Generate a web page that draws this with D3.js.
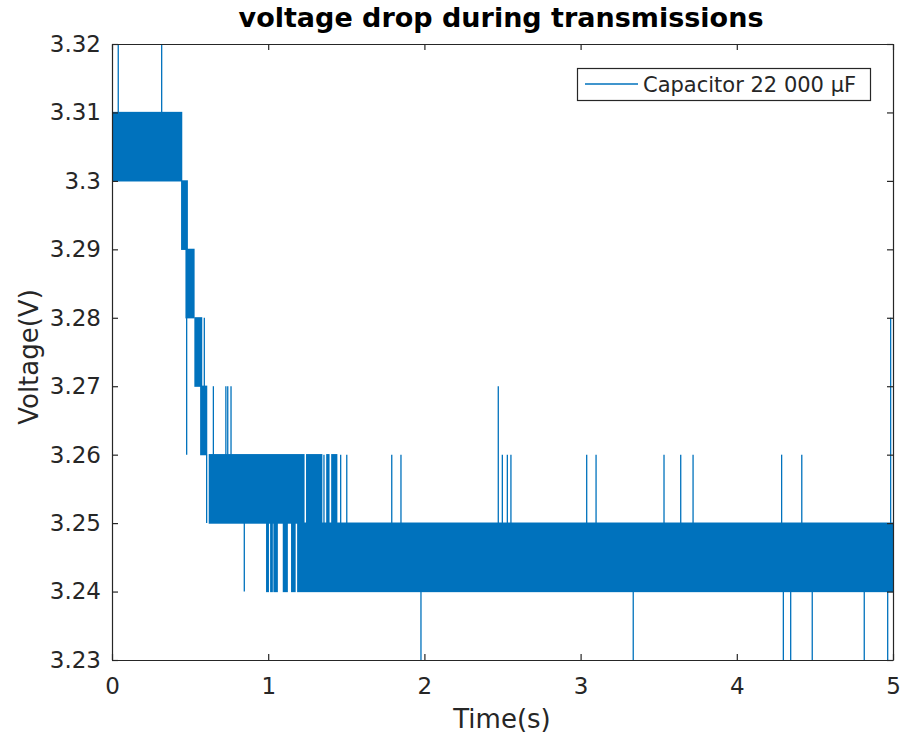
<!DOCTYPE html>
<html>
<head>
<meta charset="utf-8">
<script src="https://cdn.jsdelivr.net/npm/d3@7/dist/d3.min.js"></script>
<style>
  html, body { margin: 0; padding: 0; background: #ffffff; }
  svg { display: block; }
  text { font-family: "DejaVu Sans", sans-serif; }
</style>
</head>
<body>
<svg id="chart" width="904" height="740"></svg>
<script>
// Sampled supply voltage of a 22 000 µF capacitor while transmitting.
// The ADC reading toggles rapidly between adjacent 10 mV levels; those
// stretches are stored as toggle bands, and isolated one-sample glitches
// are stored as spikes.

const seriesName = "Capacitor 22 000 µF";

// Toggle bands: signal switches continuously between lo and hi over [t0, t1] (s, V)
const bandStart = [0.000, 0.446, 0.474, 0.531, 0.568, 0.623, 1.246, 1.375, 1.407, 1.189, 0.990, 1.016, 1.037, 1.097, 1.150];
const bandEnd   = [0.446, 0.482, 0.525, 0.574, 0.606, 1.229, 1.343, 1.389, 1.439, 5.000, 1.001, 1.026, 1.058, 1.122, 1.172];
const bandLow   = [3.30,  3.29,  3.28,  3.27,  3.26,  3.25,  3.25,  3.25,  3.25,  3.24,  3.24,  3.24,  3.24,  3.24,  3.24];
const bandHigh  = [3.31,  3.30,  3.29,  3.28,  3.27,  3.26,  3.26,  3.26,  3.26,  3.25,  3.25,  3.25,  3.25,  3.25,  3.25];

// Single-sample glitches: time (s), and the two voltages the trace jumps between
const spikeTime = [0.040, 0.318, 0.478, 0.591, 0.649, 0.729, 0.741, 0.762, 0.606,
                   1.357, 1.464, 1.503, 1.791, 1.850, 2.473, 2.499, 2.531, 2.554,
                   3.039, 3.099, 3.534, 3.641, 3.720, 4.287, 4.416, 0.847,
                   1.978, 3.337, 4.298, 4.345, 4.483, 4.816, 4.966, 4.985];
const spikeFrom = [3.31, 3.31, 3.28, 3.27, 3.26, 3.26, 3.26, 3.26, 3.25,
                   3.25, 3.25, 3.25, 3.25, 3.25, 3.25, 3.25, 3.25, 3.25,
                   3.25, 3.25, 3.25, 3.25, 3.25, 3.25, 3.25, 3.24,
                   3.23, 3.23, 3.23, 3.23, 3.23, 3.23, 3.23, 3.25];
const spikeTo   = [3.325, 3.325, 3.26, 3.28, 3.27, 3.27, 3.27, 3.27, 3.26,
                   3.26, 3.26, 3.26, 3.26, 3.26, 3.27, 3.26, 3.26, 3.26,
                   3.26, 3.26, 3.26, 3.26, 3.26, 3.26, 3.26, 3.25,
                   3.24, 3.24, 3.24, 3.24, 3.24, 3.24, 3.24, 3.28];

const xTicks = [0, 1, 2, 3, 4, 5];
const xTickLabels = ["0", "1", "2", "3", "4", "5"];
const yTicks = [3.23, 3.24, 3.25, 3.26, 3.27, 3.28, 3.29, 3.30, 3.31, 3.32];
const yTickLabels = ["3.23", "3.24", "3.25", "3.26", "3.27", "3.28", "3.29", "3.3", "3.31", "3.32"];

const lineColor = "#0072BD";
const axisColor = "#262626";

const W = 904, H = 740;
const margin = { top: 44, right: 11, bottom: 80, left: 112 };
const svg = d3.select("#chart");

const x = d3.scaleLinear().domain([0, 5]).range([margin.left, W - margin.right]);
const y = d3.scaleLinear().domain([3.23, 3.32]).range([H - margin.bottom, margin.top]);

svg.append("defs").append("clipPath").attr("id", "plot-clip")
  .append("rect")
  .attr("x", x(0)).attr("y", y(3.32))
  .attr("width", x(5) - x(0)).attr("height", y(3.23) - y(3.32));

const plot = svg.append("g").attr("clip-path", "url(#plot-clip)");

const bands = bandStart.map((t0, i) => ({ t0, t1: bandEnd[i], lo: bandLow[i], hi: bandHigh[i] }));
const spikes = spikeTime.map((t, i) => ({ t, a: spikeFrom[i], b: spikeTo[i] }));

plot.selectAll("rect.band").data(bands).join("rect")
  .attr("class", "band")
  .attr("x", d => x(d.t0) - 0.6)
  .attr("width", d => x(d.t1) - x(d.t0) + 1.2)
  .attr("y", d => y(d.hi) - 0.6)
  .attr("height", d => y(d.lo) - y(d.hi) + 1.2)
  .attr("fill", lineColor);

plot.selectAll("line.spike").data(spikes).join("line")
  .attr("class", "spike")
  .attr("x1", d => x(d.t)).attr("x2", d => x(d.t))
  .attr("y1", d => y(d.a)).attr("y2", d => y(d.b))
  .attr("stroke", lineColor).attr("stroke-width", 1.3);

// Axes: MATLAB-style box with inward ticks on all four sides
const tickLen = 6;
const styleAxis = g => {
  g.selectAll("path.domain").attr("stroke", axisColor).attr("stroke-width", 1.2);
  g.selectAll(".tick line").attr("stroke", axisColor).attr("stroke-width", 1.2);
  g.selectAll(".tick text").attr("fill", axisColor)
    .style("font-family", "'DejaVu Sans', sans-serif").style("font-size", "23px");
};

svg.append("g")
  .attr("transform", `translate(0,${y(3.23)})`)
  .call(d3.axisBottom(x).tickValues(xTicks).tickFormat((d, i) => xTickLabels[i])
    .tickSizeInner(-tickLen).tickSizeOuter(0).tickPadding(12))
  .call(styleAxis)
  .call(g => g.selectAll(".tick text").attr("dy", "0.95em"));

svg.append("g")
  .attr("transform", `translate(0,${y(3.32)})`)
  .call(d3.axisTop(x).tickValues(xTicks).tickFormat("")
    .tickSizeInner(-tickLen).tickSizeOuter(0))
  .call(styleAxis);

svg.append("g")
  .attr("transform", `translate(${x(0)},0)`)
  .call(d3.axisLeft(y).tickValues(yTicks).tickFormat((d, i) => yTickLabels[i])
    .tickSizeInner(-tickLen).tickSizeOuter(0).tickPadding(11))
  .call(styleAxis);

svg.append("g")
  .attr("transform", `translate(${x(5)},0)`)
  .call(d3.axisRight(y).tickValues(yTicks).tickFormat("")
    .tickSizeInner(-tickLen).tickSizeOuter(0))
  .call(styleAxis);

// Title and axis labels
svg.append("text")
  .attr("x", 501).attr("y", 27)
  .attr("text-anchor", "middle")
  .style("font-size", "27px").style("font-weight", "bold")
  .attr("fill", "#000")
  .text("voltage drop during transmissions");

svg.append("text")
  .attr("x", 502).attr("y", 728)
  .attr("text-anchor", "middle")
  .style("font-size", "26px")
  .attr("fill", axisColor)
  .text("Time(s)");

svg.append("text")
  .attr("transform", `translate(38,${(y(3.23) + y(3.32)) / 2 + 5}) rotate(-90)`)
  .attr("text-anchor", "middle")
  .style("font-size", "26px")
  .attr("fill", axisColor)
  .text("Voltage(V)");

// Legend
const legend = svg.append("g");
legend.append("rect")
  .attr("x", 577.5).attr("y", 68.5).attr("width", 293).attr("height", 32)
  .attr("fill", "#fff").attr("stroke", axisColor).attr("stroke-width", 1.2);
legend.append("line")
  .attr("x1", 585).attr("x2", 638).attr("y1", 84).attr("y2", 84)
  .attr("stroke", lineColor).attr("stroke-width", 1.3);
legend.append("text")
  .attr("x", 643).attr("y", 92)
  .style("font-size", "21px")
  .attr("fill", axisColor)
  .text(seriesName);
</script>
</body>
</html>
